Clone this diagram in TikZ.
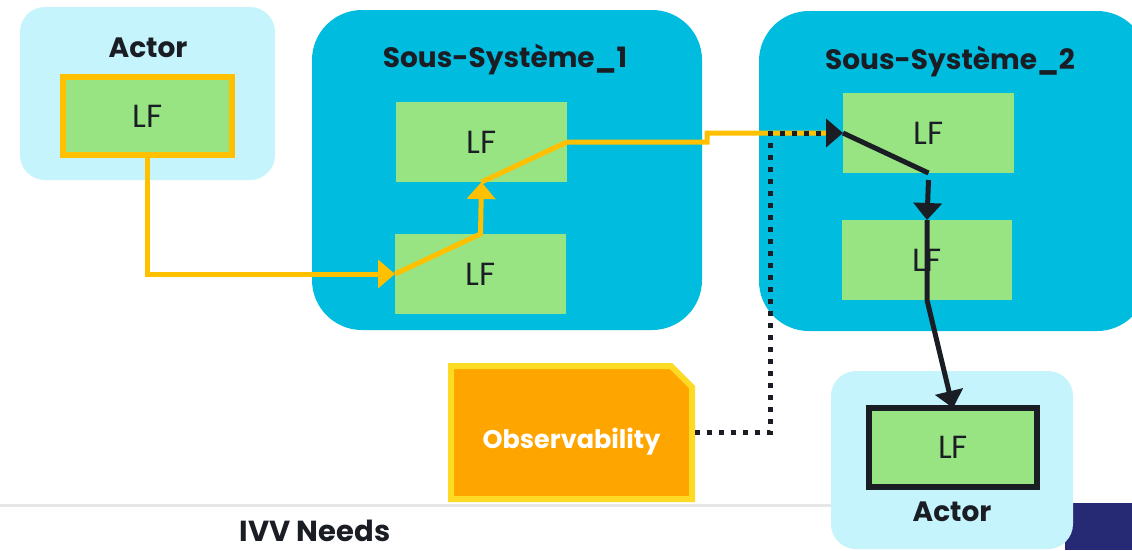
\documentclass[tikz,border=0pt]{standalone}
\usepackage{fontspec}
\setmainfont{Poppins}
\usetikzlibrary{arrows.meta}

\definecolor{actorbg}{HTML}{C5F4FC}
\definecolor{sysbg}{HTML}{00BCDF}
\definecolor{lfgreen}{HTML}{98E483}
\definecolor{flowyellow}{HTML}{FFC000}
\definecolor{inkdark}{HTML}{1A1D24}
\definecolor{obsorange}{HTML}{FFA500}
\definecolor{obsborder}{HTML}{FDDA24}
\definecolor{navy}{HTML}{262A75}
\definecolor{rulegray}{HTML}{E6E6E6}

\tikzset{
  actorbox/.style={fill=actorbg, rounded corners=25pt, inner sep=0pt, outer sep=0pt},
  sysbox/.style={fill=sysbg, rounded corners=50pt, inner sep=0pt, outer sep=0pt},
  lfbox/.style={fill=lfgreen, inner sep=0pt, outer sep=0pt,
    minimum width=171pt, minimum height=80pt, text=inkdark,
    font=\fontsize{32}{34}\selectfont},
  title/.style={text=inkdark, inner sep=0pt, font=\bfseries\fontsize{28}{30}\selectfont},
  flow/.style={draw=flowyellow, line width=5pt},
  ctrl/.style={draw=inkdark, line width=5pt},
  tip/.style={-{Triangle[length=17pt, width=28pt]}},
  dots/.style={draw=inkdark, line width=5pt, dash pattern=on 5pt off 7pt}
}

\begin{document}
\begin{tikzpicture}[x=1pt, y=-1pt]
  \useasboundingbox (0,0) rectangle (1132,550);
  \clip (0,0) rectangle (1132,550);

  % footer band
  \fill[navy] (1065,503) rectangle (1132,550);
  \fill[rulegray] (0,503.5) rectangle (840,506.5);
  \node[title, anchor=base, font=\bfseries\fontsize{29}{31}\selectfont] (needs) at (315,541) {IVV Needs};

  % containers
  \node[actorbox, minimum width=255pt, minimum height=173pt] (actorA) at (147.5,93.5) {};
  \node[sysbox, minimum width=390pt, minimum height=320pt] (sysA) at (507,170) {};
  \node[sysbox, minimum width=388pt, minimum height=320pt] (sysB) at (953,171) {};
  \node[actorbox, minimum width=242pt, minimum height=178pt] (actorB) at (952,460) {};

  % container titles
  \node[title] (actorAlbl) at (148,48) {Actor};
  \node[title] (sysAlbl) at (505,60) {Sous-Système\_1};
  \node[title] (sysBlbl) at (950,62) {Sous-Système\_2};
  \node[title] (actorBlbl) at (952,512) {Actor};

  % logical functions
  \node[lfbox, draw=flowyellow, line width=6pt, minimum width=169pt, minimum height=78pt] (lfA) at (147.5,116) {LF};
  \node[lfbox] (lfS1top) at (481.5,142) {LF};
  \node[lfbox] (lfS1bot) at (480.5,274) {LF};
  \node[lfbox] (lfS2top) at (928.5,133) {LF};
  \node[lfbox, minimum width=170pt] (lfS2bot) at (927,260) {LF};
  \node[lfbox, draw=inkdark, line width=6pt, minimum width=168pt, minimum height=79pt] (lfB) at (953,447.5) {LF};

  % observability tag with a cut corner
  \filldraw[fill=obsorange, draw=obsborder, line width=6pt]
    (451,499) -- (451,366) -- (671,366) -- (692,387) -- (692,499) -- cycle;
  \node[inner sep=0pt, outer sep=0pt, minimum width=247pt, minimum height=139pt,
        text height=31pt, text depth=0pt,
        text=white, font=\bfseries\fontsize{25.5}{27}\selectfont] (obs) at (571.5,432.5) {Observability};

  % routing helpers
  \coordinate (jog) at (707,0);
  \coordinate (tap) at (770,0);

  % yellow functional chain
  \draw[flow, tip] (lfA.south) |- (lfS1bot.west);
  \draw[flow, tip] (lfS1bot.west) -- (lfS1bot.north) -- (lfS1top.south);
  \draw[flow, shorten >=10pt] (lfS1top.south) -- (lfS1top.east) -- (jog |- lfS1top.east)
    -- (jog |- lfS2top.west) -- (lfS2top.west);

  % observation point
  \draw[dots, tip] (obs.east) -- (tap |- obs.east) -- (tap |- lfS2top.west) -- (lfS2top.west);

  % dark chain through Sous-Système_2
  \draw[ctrl] (lfS2top.west) -- (lfS2top.south);
  \draw[ctrl, tip] ([yshift=-7pt]lfS2top.south) -- (lfS2bot.north);
  \draw[ctrl, tip] (lfS2bot.north) -- (lfS2bot.south) -- (lfB.north);
\end{tikzpicture}
\end{document}
